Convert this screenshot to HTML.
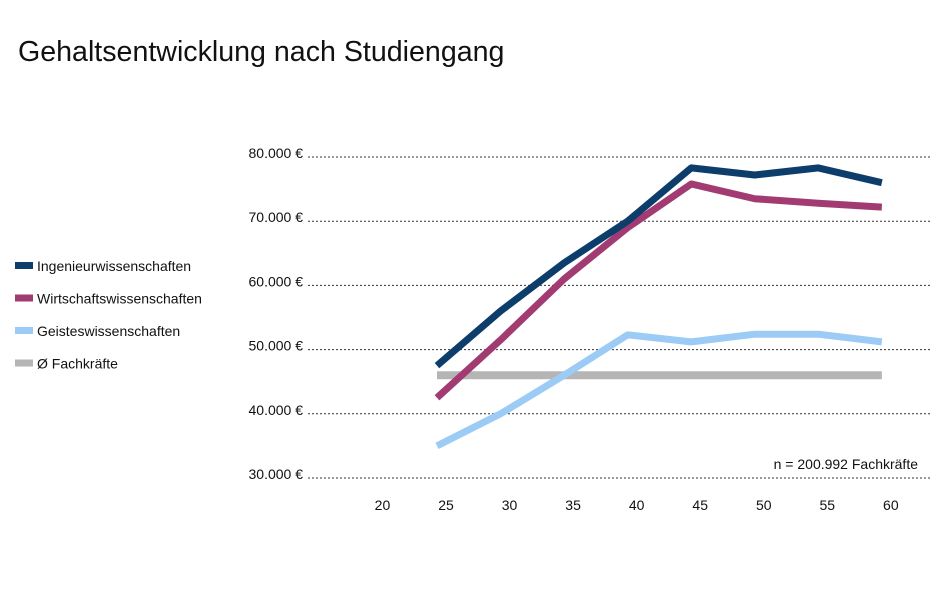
<!DOCTYPE html>
<html><head><meta charset="utf-8"><style>
body{margin:0;background:#fff;font-family:"Liberation Sans",sans-serif;}
#wrap{position:relative;width:946px;height:605px;overflow:hidden;background:#fff;}
</style></head><body>
<div id="wrap">
<svg id="chart" width="946" height="605"></svg>
</div>
<script>
const ages=[25,30,35,40,45,50,55,60];
const ingenieur=[47500,56000,63500,70000,78300,77200,78300,76000];
const wirtschaft=[42500,51500,61000,69000,75800,73500,72800,72200];
const geistes=[35000,40000,46000,52300,51200,52400,52400,51200];
const fachkraefte=[46000,46000,46000,46000,46000,46000,46000,46000];
const yTicks=[30000,40000,50000,60000,70000,80000];
const yTickLabels=["30.000 €","40.000 €","50.000 €","60.000 €","70.000 €","80.000 €"];
const xTicks=[20,25,30,35,40,45,50,55,60];
const seriesNames=["Ingenieurwissenschaften","Wirtschaftswissenschaften","Geisteswissenschaften","Ø Fachkräfte"];
const seriesColors=["#0d3d6b","#a23b72","#9ccbf5","#b5b5b5"];
const seriesData=[ingenieur,wirtschaft,geistes,fachkraefte];

const NS="http://www.w3.org/2000/svg";
const svg=document.getElementById('chart');
function xScale(a){return 437+(a-25)*12.71;}
function yScale(v){return 478-(v-30000)*0.00642;}
function mk(tag,attrs){const e=document.createElementNS(NS,tag);for(const k in attrs)e.setAttribute(k,attrs[k]);svg.appendChild(e);return e;}

const title=mk('text',{x:18,y:61,'font-size':28.6,fill:'#111'});
title.textContent="Gehaltsentwicklung nach Studiengang";



yTicks.forEach((v,i)=>{
  const y=yScale(v);
  const g=mk('line',{x1:308,x2:930,y1:y,y2:y,stroke:'#333','stroke-width':1,'stroke-dasharray':'2,2'});
  
  
  const t=mk('text',{x:303,y:y+1,'font-size':14,'text-anchor':'end',fill:'#111'});
  t.textContent=yTickLabels[i];
  
  
});
xTicks.forEach(a=>{
  const t=mk('text',{x:xScale(a)+9,y:510,'font-size':14,'text-anchor':'middle',fill:'#111'});
  t.textContent=a;
  
  
});
[3,2,1,0].forEach(s=>{
  const d=seriesData[s].map((v,i)=>(i?'L':'M')+xScale(ages[i])+','+yScale(v)).join(' ');
  const p=mk('path',{d:d,fill:'none',stroke:seriesColors[s],'stroke-width':s==3?8:7,'stroke-linejoin':'round'});
  
  
});
seriesNames.forEach((n,i)=>{
  const y=266+i*32.5;
  const r=mk('rect',{x:15,y:y-4,width:18,height:7,fill:seriesColors[i]});
  
  
  const t=mk('text',{x:37,y:y+5,'font-size':14,fill:'#111'});
  t.textContent=n;
  
  
});
const note=mk('text',{x:918,y:469,'font-size':14,'text-anchor':'end',fill:'#111'});
note.textContent="n = 200.992 Fachkräfte";


</script>
</body></html>
